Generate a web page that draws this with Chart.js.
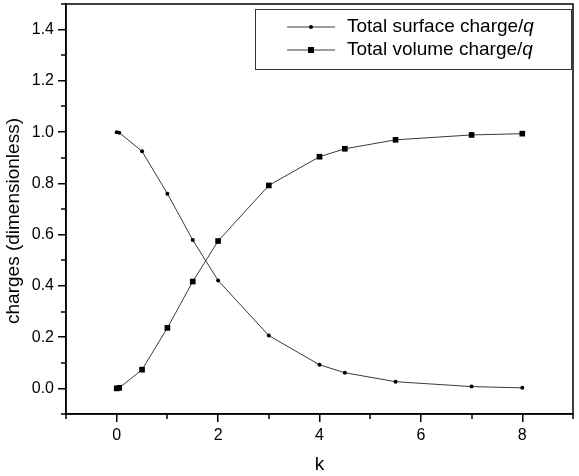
<!DOCTYPE html>
<html lang="en">
<head>
    <meta charset="UTF-8">
    <title>Total surface and volume charge vs k</title>
    <script src="https://cdn.jsdelivr.net/npm/chart.js@4.4.0/dist/chart.umd.min.js"></script>
    <style>
        body { margin: 0; background: #fff; }
    </style>
</head>
<body>
    <canvas id="chart" width="579" height="476"></canvas>
    <script>

// values
const kValues = [0, 0.05, 0.5, 1, 1.5, 2, 3, 4, 4.5, 5.5, 7, 8];
const surfaceCharge = [1.0, 0.998, 0.925, 0.760, 0.579, 0.421, 0.206, 0.092, 0.061, 0.026, 0.007, 0.002];
const volumeCharge = [0.0, 0.002, 0.073, 0.236, 0.417, 0.575, 0.792, 0.904, 0.935, 0.970, 0.989, 0.994];
const seriesNames = ['Total surface charge/', 'Total volume charge/'];
const xLabels = [0, 2, 4, 6, 8];
const yLabels = [0, 0.2, 0.4, 0.6, 0.8, 1.0, 1.2, 1.4];
const yTitle = 'charges (dimensionless)';

const lineColor = '#3a3a3a';
const font = 'Liberation Sans, Arial, sans-serif';

function toPoints(ys) {
    return kValues.map((k, i) => ({ x: k, y: ys[i] }));
}

// major ticks are drawn by Chart.js, unlabelled ones are hidden there
const tickColor = c => (c.tick && c.tick.label === '') ? 'rgba(0,0,0,0)' : '#000';

// frame, short minor ticks, y title and the Origin-style legend
const framePlugin = {
    id: 'frame',
    afterDraw(chart) {
        const ctx = chart.ctx;
        const a = chart.chartArea;
        ctx.save();
        ctx.strokeStyle = '#000';
        ctx.lineWidth = 1.5;
        ctx.strokeRect(a.left, a.top, a.right - a.left, a.bottom - a.top);

        // minor ticks
        const sx = chart.scales.x, sy = chart.scales.y;
        ctx.beginPath();
        sx.ticks.forEach(t => {
            if (t.label !== '') return;
            const px = Math.round(sx.getPixelForValue(t.value));
            ctx.moveTo(px, a.bottom);
            ctx.lineTo(px, a.bottom + 5);
        });
        sy.ticks.forEach(t => {
            if (t.label !== '') return;
            const py = Math.round(sy.getPixelForValue(t.value));
            ctx.moveTo(a.left, py);
            ctx.lineTo(a.left - 5, py);
        });
        ctx.stroke();

        // y axis title
        ctx.save();
        ctx.translate(14, 221);
        ctx.rotate(-Math.PI / 2);
        ctx.fillStyle = '#000';
        ctx.font = '19px ' + font;
        ctx.textAlign = 'center';
        ctx.textBaseline = 'middle';
        ctx.fillText(yTitle, 0, 0);
        ctx.restore();

        // legend box
        const bx = 255, by = 9, bw = 316, bh = 60;
        ctx.lineWidth = 1;
        ctx.strokeStyle = '#333';
        ctx.strokeRect(bx + 0.5, by + 0.5, bw, bh);

        chart.data.datasets.forEach((ds, i) => {
            const y = 27 + i * 23;
            ctx.strokeStyle = lineColor;
            ctx.lineWidth = 1;
            ctx.beginPath();
            ctx.moveTo(287, y);
            ctx.lineTo(335, y);
            ctx.stroke();
            ctx.fillStyle = '#000';
            if (ds.pointStyle === 'rect') {
                ctx.fillRect(308, y - 3, 6, 6);
            } else {
                ctx.beginPath();
                ctx.arc(311, y, 2, 0, Math.PI * 2);
                ctx.fill();
            }
            ctx.textAlign = 'left';
            ctx.textBaseline = 'middle';
            ctx.font = '19px ' + font;
            ctx.fillText(seriesNames[i], 347, y);
            const w = ctx.measureText(seriesNames[i]).width;
            ctx.font = 'italic 19px ' + font;
            ctx.fillText('q', 347 + w, y);
        });
        ctx.restore();
    }
};

const ctx = document.getElementById('chart').getContext('2d');
new Chart(ctx, {
    type: 'scatter',
    data: {
        datasets: [{
            label: seriesNames[0] + 'q',
            data: toPoints(surfaceCharge),
            showLine: true,
            borderColor: lineColor,
            borderWidth: 1,
            pointStyle: 'circle',
            pointRadius: 2,
            pointBackgroundColor: '#000',
            pointBorderWidth: 0
        }, {
            label: seriesNames[1] + 'q',
            data: toPoints(volumeCharge),
            showLine: true,
            borderColor: lineColor,
            borderWidth: 1,
            pointStyle: 'rect',
            pointRadius: 4,
            pointBackgroundColor: '#000',
            pointBorderWidth: 0
        }]
    },
    options: {
        responsive: false,
        animation: false,
        events: [],
        layout: { padding: { top: 4, right: 6, left: 0, bottom: 0 } },
        plugins: {
            legend: { display: false },
            tooltip: { enabled: false }
        },
        scales: {
            x: {
                type: 'linear',
                min: -1,
                max: 9,
                afterFit(scale) {
                    scale.height = 62;
                    scale.paddingLeft = 0;
                    scale.paddingRight = 0;
                },
                border: { display: true, color: '#000', width: 1.5 },
                grid: { drawOnChartArea: false, drawTicks: true, tickLength: 8, color: tickColor, lineWidth: 1.5 },
                ticks: {
                    stepSize: 1,
                    autoSkip: false,
                    maxRotation: 0,
                    color: '#000',
                    padding: 4,
                    font: { family: font, size: 16 },
                    callback: v => xLabels.includes(v) ? String(v) : ''
                },
                title: {
                    display: true,
                    text: 'k',
                    color: '#000',
                    padding: { top: 2, bottom: 0 },
                    font: { family: font, size: 19 }
                }
            },
            y: {
                type: 'linear',
                min: -0.1,
                max: 1.5,
                afterFit(scale) {
                    scale.width = 66;
                    scale.paddingTop = 0;
                    scale.paddingBottom = 0;
                },
                border: { display: true, color: '#000', width: 1.5 },
                grid: { drawOnChartArea: false, drawTicks: true, tickLength: 8, color: tickColor, lineWidth: 1.5 },
                ticks: {
                    stepSize: 0.1,
                    autoSkip: false,
                    color: '#000',
                    padding: 4,
                    font: { family: font, size: 16 },
                    callback: v => {
                        const n = Math.round(v * 10) / 10;
                        return yLabels.some(l => Math.abs(l - n) < 1e-6) ? n.toFixed(1) : '';
                    }
                }
            }
        }
    },
    plugins: [framePlugin]
});
    </script>
</body>
</html>
